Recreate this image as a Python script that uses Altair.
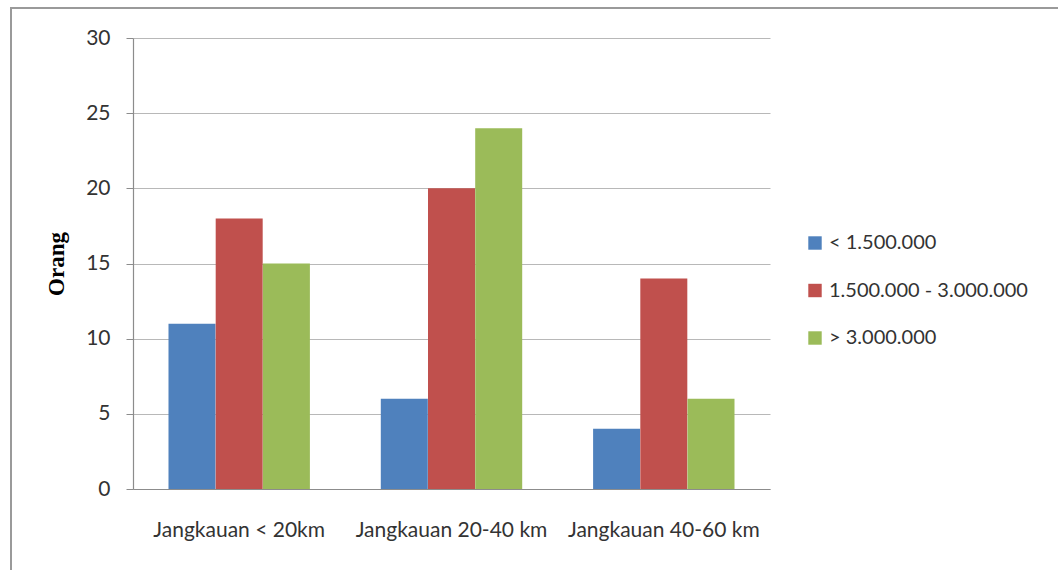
import altair as alt
import pandas as pd

# Respondents by travel range and income group
categories = ["Jangkauan < 20km", "Jangkauan 20-40 km", "Jangkauan 40-60 km"]
series = ["< 1.500.000", "1.500.000 - 3.000.000", "> 3.000.000"]
values_low = [11, 6, 4]
values_mid = [18, 20, 14]
values_high = [15, 24, 6]
colors = ["#4F81BD", "#C0504D", "#9BBB59"]
y_ticks = [0, 5, 10, 15, 20, 25, 30]

rows = []
for s, vals in zip(series, [values_low, values_mid, values_high]):
    for c, v in zip(categories, vals):
        rows.append({"Jangkauan": c, "Pendapatan": s, "Orang": v})
df = pd.DataFrame(rows)

W, H = 637, 451
PAD_L, PAD_T = 133, 38

bars = alt.Chart(df).mark_bar(size=47).encode(
    x=alt.X("Jangkauan:N", sort=categories, title=None,
            scale=alt.Scale(paddingInner=0.333, paddingOuter=0.1667),
            axis=alt.Axis(labelAngle=0, labelFont="Lato", labelFontSize=21,
                          labelColor="#333333", labelPadding=30, ticks=False,
                          labelLimit=0,
                          domainColor="#8c8c8c", domainWidth=1.2, grid=False)),
    xOffset=alt.XOffset("Pendapatan:N", sort=series,
                        scale=alt.Scale(paddingInner=0, paddingOuter=0)),
    y=alt.Y("Orang:Q", title="Orang",
            scale=alt.Scale(domain=[0, 30], nice=False),
            axis=alt.Axis(values=y_ticks, labelFont="Lato", labelFontSize=21,
                          labelColor="#333333", labelPadding=16,
                          tickColor="#8c8c8c", tickSize=7, domainColor="#8c8c8c",
                          domainWidth=1.2, gridColor="#b8b8b8", gridWidth=1,
                          titleFont="Liberation Serif", titleFontSize=23,
                          titleFontWeight="bold", titleColor="#000000",
                          titlePadding=17)),
    color=alt.Color("Pendapatan:N", sort=series,
                    scale=alt.Scale(domain=series, range=colors),
                    legend=alt.Legend(title=None, symbolType="square",
                                      symbolSize=180, symbolStrokeWidth=0,
                                      labelFont="Lato", labelFontSize=20,
                                      labelColor="#333333", rowPadding=27.5,
                                      labelLimit=0,
                                      orient="none", legendX=672, legendY=195,
                                      labelOffset=4)),
)

# Outer chart frame
frame = alt.Chart(pd.DataFrame({"f": [0]})).mark_rect(
    fill=None, stroke="#9a9a9a", strokeWidth=2
).encode(
    x=alt.value(11 - PAD_L), x2=alt.value(1080 - PAD_L),
    y=alt.value(8 - PAD_T), y2=alt.value(620 - PAD_T),
)

chart = alt.layer(frame, bars).properties(
    width=W, height=H,
    autosize=alt.AutoSizeParams(type="none"),
    padding={"left": PAD_L, "top": PAD_T, "right": 1058 - PAD_L - W,
             "bottom": 570 - PAD_T - H},
    background="white",
).configure_view(stroke=None)

chart.save("out.html", embed_options={"renderer": "svg", "actions": False})
